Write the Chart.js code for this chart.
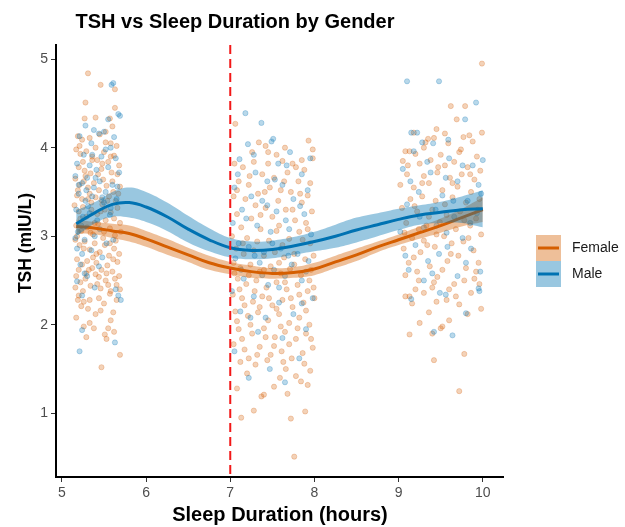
<!DOCTYPE html>
<html>
<head>
<meta charset="utf-8">
<script src="https://cdn.jsdelivr.net/npm/chart.js@4/dist/chart.umd.min.js"></script>
<style>
  html, body { margin: 0; background: #fff; }
  #wrap { width: 625px; height: 527px; }
</style>
</head>
<body>
<div id="wrap"><canvas id="chart" width="625" height="527"></canvas></div>
<script>
/* --- Data --- */
const chartTitle = 'TSH vs Sleep Duration by Gender';
const xTitle = 'Sleep Duration (hours)';
const yTitle = 'TSH (mIU/L)';
const xTicks = [5, 6, 7, 8, 9, 10];
const yTicks = [1, 2, 3, 4, 5];
const cutoffHours = 7;
const groups = ['Female', 'Male'];

// smoothed fit + confidence band, read at these hours
const fitHours   = [5.17, 5.4, 5.6, 5.8, 6.0, 6.25, 6.5, 6.75, 7.0, 7.25, 7.5, 7.75, 8.0, 8.25, 8.5, 8.75, 9.0, 9.25, 9.5, 9.75, 10.0];
const maleFit    = [3.14, 3.27, 3.36, 3.38, 3.33, 3.22, 3.08, 2.96, 2.87, 2.84, 2.85, 2.89, 2.94, 3.00, 3.07, 3.13, 3.19, 3.24, 3.27, 3.30, 3.31];
const maleUpper  = [3.29, 3.39, 3.50, 3.55, 3.50, 3.38, 3.23, 3.09, 2.98, 2.94, 2.95, 2.99, 3.05, 3.13, 3.21, 3.26, 3.31, 3.35, 3.39, 3.45, 3.52];
const maleLower  = [3.00, 3.15, 3.22, 3.21, 3.16, 3.06, 2.93, 2.83, 2.76, 2.74, 2.75, 2.79, 2.83, 2.87, 2.93, 3.00, 3.07, 3.13, 3.15, 3.15, 3.10];
const femaleFit   = [3.11, 3.09, 3.06, 3.03, 2.97, 2.88, 2.79, 2.70, 2.64, 2.60, 2.58, 2.59, 2.63, 2.71, 2.79, 2.88, 2.96, 3.04, 3.12, 3.21, 3.30];
const femaleUpper = [3.19, 3.16, 3.14, 3.12, 3.06, 2.97, 2.87, 2.78, 2.71, 2.67, 2.64, 2.65, 2.70, 2.78, 2.86, 2.94, 3.02, 3.11, 3.20, 3.31, 3.44];
const femaleLower = [3.03, 3.02, 2.98, 2.94, 2.88, 2.79, 2.71, 2.62, 2.57, 2.53, 2.52, 2.53, 2.56, 2.64, 2.72, 2.82, 2.90, 2.97, 3.04, 3.11, 3.16];

// individual observations [hours, TSH]
const femaleShort = [
  [5.31,4.84],[5.46,4.71],[5.63,4.66],[5.28,4.51],[5.63,4.45],[5.27,4.33],[5.40,4.34],[5.57,4.33],[5.60,4.24],[5.52,4.18],[5.19,4.13],[5.24,4.09],[5.33,4.11],[5.45,4.15],[5.58,4.05],[5.65,4.02],
  [5.17,3.98],[5.22,3.93],[5.29,3.96],[5.36,3.90],[5.42,3.86],[5.50,3.95],[5.55,3.84],[5.62,3.91],[5.68,3.80],[5.20,3.78],[5.27,3.74],[5.34,3.71],[5.47,3.76],[5.59,3.72],[5.66,3.70],
  [5.16,3.65],[5.21,3.58],[5.26,3.62],[5.31,3.55],[5.38,3.60],[5.44,3.52],[5.49,3.64],[5.53,3.57],[5.61,3.50],[5.69,3.56],[5.18,3.46],[5.24,3.42],[5.33,3.48],[5.40,3.44],[5.47,3.41],[5.56,3.45],[5.64,3.40],
  [5.15,3.35],[5.20,3.28],[5.25,3.33],[5.29,3.22],[5.35,3.30],[5.42,3.25],[5.48,3.36],[5.52,3.18],[5.58,3.27],[5.66,3.32],[5.17,3.12],[5.23,3.06],[5.30,3.10],[5.37,3.02],[5.43,3.14],[5.50,3.05],[5.57,3.09],[5.63,3.01],[5.69,3.15],
  [5.16,2.96],[5.21,2.90],[5.27,2.94],[5.33,2.85],[5.39,2.92],[5.45,2.82],[5.51,2.90],[5.56,2.78],[5.62,2.86],[5.68,2.80],[5.18,2.74],[5.24,2.68],[5.30,2.72],[5.36,2.64],[5.41,2.70],[5.47,2.62],[5.54,2.67],[5.60,2.60],[5.66,2.71],
  [5.17,2.55],[5.22,2.48],[5.28,2.52],[5.34,2.44],[5.40,2.57],[5.46,2.41],[5.52,2.50],[5.58,2.38],[5.65,2.45],[5.20,2.33],[5.26,2.26],[5.33,2.28],[5.44,2.30],[5.50,2.24],[5.57,2.35],[5.65,2.28],
  [5.23,2.21],[5.17,2.08],[5.33,2.02],[5.29,1.86],[5.51,1.89],[5.53,1.84],[5.55,1.96],[5.47,1.52],[5.69,1.66],[5.40,2.12],[5.58,2.05],[5.62,1.92],[5.26,1.98],
  [5.19,3.52],[5.28,3.68],[5.35,3.38],[5.43,3.70],[5.51,3.30],[5.60,3.62],[5.67,3.48],[5.22,3.20],[5.31,3.42],[5.39,3.15],[5.46,3.28],[5.54,3.40],[5.62,3.20],[5.18,3.00],[5.26,2.86],[5.34,3.04],
  [5.41,2.80],[5.49,2.98],[5.57,2.92],[5.64,2.95],[5.70,3.05],[5.20,2.62],[5.29,2.58],[5.37,2.76],[5.44,2.54],[5.53,2.58],[5.61,2.74],[5.68,2.55],[5.16,2.42],[5.25,2.38],[5.32,2.62],[5.42,2.46],
  [5.55,2.45],[5.63,2.52],[5.69,2.40],[5.36,3.86],[5.25,3.84],[5.48,3.82],[5.58,3.90],[5.21,4.02],[5.40,4.00],[5.52,4.06],[5.31,2.18],[5.46,2.16],[5.61,2.14],[5.38,1.96],[5.19,2.28]
];
const femaleMid = [
  [7.06,4.27],[7.34,4.06],[7.42,4.02],[7.45,3.95],[7.98,3.98],[7.98,3.88],[7.74,3.82],[7.78,3.78],[7.55,3.92],[7.62,3.85],[7.05,3.82],[7.15,3.78],[7.28,3.84],[7.88,3.75],[7.68,3.72],[7.38,3.70],
  [7.52,3.66],[7.81,3.62],[7.95,3.60],[7.10,3.62],[7.22,3.58],[7.47,3.55],[7.60,3.52],[7.72,3.50],[7.92,3.46],[7.04,3.45],[7.18,3.42],[7.33,3.48],[7.57,3.40],[7.85,3.38],[7.30,3.35],[7.42,3.32],
  [7.66,3.30],[7.97,3.28],[7.08,3.25],[7.25,3.20],[7.50,3.22],[7.77,3.18],[7.90,3.15],[7.13,3.10],[7.36,3.08],[7.58,3.12],[7.82,3.05],[7.02,3.00],[7.20,2.98],[7.46,2.95],[7.70,2.97],[7.95,2.92],
  [7.07,2.86],[7.16,2.80],[7.28,2.84],[7.40,2.78],[7.53,2.82],[7.64,2.76],[7.76,2.80],[7.89,2.74],[7.99,2.78],[7.04,2.70],[7.12,2.64],[7.24,2.68],[7.35,2.60],[7.48,2.66],[7.60,2.58],[7.71,2.63],
  [7.84,2.56],[7.96,2.62],[7.09,2.52],[7.19,2.46],[7.31,2.50],[7.43,2.42],[7.55,2.48],[7.67,2.40],[7.80,2.45],[7.92,2.38],[7.03,2.34],[7.14,2.30],[7.27,2.26],[7.38,2.32],[7.50,2.22],[7.62,2.28],
  [7.74,2.20],[7.87,2.25],[8.00,2.30],[7.06,2.15],[7.21,2.10],[7.33,2.14],[7.45,2.05],[7.58,2.12],[7.70,2.02],[7.82,2.08],[7.94,2.00],[7.10,1.95],[7.26,1.90],[7.40,1.96],[7.53,1.86],[7.65,1.92],
  [7.78,1.84],[7.90,1.90],[7.04,1.78],[7.17,1.72],[7.35,1.75],[7.48,1.66],[7.61,1.70],[7.73,1.62],[7.86,1.68],[7.98,1.74],[7.12,1.58],[7.30,1.55],[7.44,1.60],
  [7.13,0.95],[7.28,1.03],[7.72,0.94],[7.89,1.02],[7.76,0.51],[7.37,1.19],[7.40,1.21],[7.68,1.22],[7.59,1.40],[7.84,1.36],[7.92,1.32],[7.78,1.42],[7.20,1.45],[7.52,1.30],[7.08,1.28],[7.66,1.50],[7.95,1.48],
  [7.08,3.52],[7.23,3.68],[7.41,3.50],[7.64,3.62],[7.83,3.48],[7.36,3.24],[7.55,3.06],[7.74,3.30],[7.92,3.08],[7.15,2.92],[7.32,2.94],[7.62,2.90],[7.86,2.96],[7.05,2.58],[7.22,2.56],[7.40,2.62],
  [7.58,2.70],[7.76,2.68],[7.94,2.50],[7.11,2.40],[7.29,2.38],[7.46,2.30],[7.65,2.48],[7.82,2.34],[7.99,2.42],[7.17,2.22],[7.35,2.20],[7.55,2.18],[7.72,2.30],[7.90,2.16],[7.08,2.04],[7.24,2.00],
  [7.42,1.86],[7.60,1.98],[7.80,1.96],[7.96,1.84],[7.14,1.84],[7.32,1.66],[7.52,1.76],[7.70,1.78],[7.88,1.56],[7.22,1.62],[7.63,1.58],[7.45,3.82],[7.85,3.86],[7.26,3.95],[7.65,4.00],[7.93,4.08]
];
const femaleLong = [
  [9.99,4.95],[9.62,4.47],[9.79,4.47],[9.69,4.32],[9.45,4.21],[9.18,4.17],[9.99,4.17],[9.77,4.12],[9.84,4.14],[9.35,4.10],[9.42,4.11],[9.32,4.06],[9.59,4.05],[9.88,4.07],[9.08,3.96],[9.13,3.96],[9.20,3.93],[9.72,3.95],[9.93,3.90],[9.50,3.92],
  [9.05,3.85],[9.25,3.82],[9.38,3.86],[9.55,3.80],[9.66,3.84],[9.82,3.78],[9.97,3.74],[9.10,3.70],[9.30,3.68],[9.46,3.72],[9.61,3.66],[9.75,3.70],[9.90,3.64],[9.02,3.58],[9.18,3.55],[9.36,3.60],
  [9.52,3.52],[9.70,3.56],[9.86,3.50],[9.14,3.42],[9.28,3.45],[9.44,3.40],[9.64,3.44],[9.80,3.38],[9.96,3.42],
  [9.04,3.32],[9.22,3.28],[9.40,3.30],[9.57,3.24],[9.73,3.28],[9.92,3.20],[9.09,3.15],[9.33,3.12],[9.49,3.16],[9.68,3.08],[9.85,3.12],[9.16,2.98],[9.30,2.95],[9.54,3.00],[9.77,2.94],[9.98,3.02],
  [9.06,2.86],[9.26,2.82],[9.43,2.88],[9.62,2.80],[9.89,2.84],[9.12,2.70],[9.37,2.66],[9.58,2.72],[9.80,2.64],[9.95,2.70],
  [9.08,2.56],[9.24,2.50],[9.46,2.54],[9.66,2.46],[9.90,2.52],[9.08,2.32],[9.13,2.32],[9.68,2.32],[9.20,2.40],[9.30,2.36],[9.40,2.42],[9.16,2.24],[9.72,2.23],[9.45,2.26],[9.57,2.28],[9.86,2.36],
  [9.36,2.14],[9.82,2.12],[9.98,2.18],[9.13,1.89],[9.40,1.90],[9.50,1.96],[9.52,1.98],[9.42,1.60],[9.78,1.67],[9.72,1.25],[9.60,2.05],[9.25,2.02],
  [9.11,3.80],[9.28,3.60],[9.47,3.78],[9.64,3.60],[9.85,3.70],[9.19,3.34],[9.36,3.22],[9.55,3.36],[9.78,3.18],[9.94,3.30],[9.07,3.04],[9.24,3.08],[9.45,3.02],[9.63,2.92],[9.83,2.98],[9.18,2.76],
  [9.34,2.90],[9.52,2.62],[9.71,2.78],[9.92,2.60],[9.22,2.60],[9.42,2.48],[9.60,2.40],[9.78,2.50],[9.96,2.46],[9.30,4.00],[9.55,4.16],[9.74,3.98]
];
const maleShort = [
  [5.61,4.73],[5.59,4.71],[5.67,4.38],[5.69,4.36],[5.55,4.32],[5.50,4.18],[5.44,4.16],[5.62,4.12],[5.21,4.13],[5.35,4.05],[5.58,4.00],[5.26,3.92],[5.47,3.90],[5.64,3.88],[5.18,3.82],[5.33,3.80],
  [5.41,3.75],[5.55,3.78],[5.68,3.72],[5.16,3.68],[5.24,3.60],[5.30,3.66],[5.38,3.55],[5.45,3.62],[5.52,3.50],[5.60,3.58],[5.20,3.48],[5.28,3.40],[5.36,3.45],[5.50,3.38],[5.65,3.42],[5.17,3.30],
  [5.25,3.22],[5.33,3.26],[5.42,3.18],[5.57,3.24],[5.19,3.05],[5.27,2.96],[5.39,3.00],[5.53,2.92],[5.18,2.86],[5.24,2.80],[5.35,2.84],[5.48,2.76],[5.22,2.68],[5.18,2.49],[5.39,2.42],[5.64,2.40],
  [5.70,2.28],[5.67,2.33],[5.24,2.33],[5.24,1.94],[5.63,1.80],[5.21,1.70],[5.30,2.55],
  [5.20,3.58],[5.29,3.52],[5.40,3.66],[5.48,3.44],[5.58,3.32],[5.66,3.56],[5.23,3.12],[5.31,3.34],[5.45,3.08],[5.36,3.92],[5.52,3.98],[5.27,2.58],[5.44,2.66],[5.16,2.98],[5.61,2.96],[5.38,4.20],[5.28,4.25]
];
const maleMid = [
  [7.18,4.39],[7.37,4.28],[7.21,4.04],[7.49,4.07],[7.51,4.10],[7.11,3.87],[7.57,3.82],[7.67,3.80],[7.30,3.72],[7.85,3.70],[7.44,3.62],[7.05,3.55],[7.62,3.58],[7.92,3.52],[7.25,3.45],[7.38,3.40],
  [7.75,3.42],[7.14,3.30],[7.55,3.28],[7.88,3.25],[7.03,3.15],[7.32,3.12],[7.48,3.05],[7.70,3.08],[7.96,3.02],[7.10,2.92],[7.22,2.88],[7.40,2.82],[7.60,2.86],[7.80,2.80],[7.06,2.75],[7.35,2.70],
  [7.52,2.62],[7.73,2.68],[7.93,2.72],[7.16,2.52],[7.45,2.45],[7.65,2.55],[7.85,2.50],[7.02,2.38],[7.28,2.32],[7.58,2.25],[7.98,2.30],[7.12,2.15],[7.42,2.08],[7.75,2.12],[7.33,1.92],[7.62,1.85],
  [7.90,1.95],[7.05,1.70],[7.22,1.40],[7.47,1.50],[7.65,1.35],[7.82,1.62],
  [7.09,3.70],[7.28,3.92],[7.53,3.64],[7.71,3.95],[7.95,3.88],[7.19,3.20],[7.44,3.35],[7.66,3.18],[7.83,3.34],[7.13,2.62],[7.29,2.78],[7.50,2.92],[7.69,2.78],[7.90,2.60],[7.38,2.56],[7.58,2.42],
  [7.24,2.08],[7.85,2.24]
];
const maleLong = [
  [9.10,4.75],[9.48,4.75],[9.92,4.51],[9.79,4.32],[9.15,4.17],[9.22,4.17],[9.59,4.09],[9.28,4.06],[9.41,4.05],[10.0,3.86],[9.18,3.96],[9.60,3.88],[9.88,3.80],[9.05,3.76],[9.38,3.72],[9.70,3.62],
  [9.95,3.58],[9.24,3.50],[9.52,3.46],[9.82,3.40],[9.10,3.36],[9.44,3.30],[9.66,3.22],[9.93,3.26],[9.30,3.10],[9.57,3.04],[9.76,2.98],[9.02,3.05],[9.20,2.90],[9.48,2.80],[9.86,2.86],[9.12,2.62],
  [9.40,2.58],[9.70,2.55],[9.97,2.60],[9.15,2.29],[9.56,2.34],[9.49,2.36],[9.96,2.38],[9.95,2.41],[9.80,2.13],[9.42,1.92],[9.30,2.50],[9.64,1.88],
  [9.14,3.62],[9.34,3.84],[9.56,3.66],[9.76,3.80],[9.98,3.48],[9.25,3.22],[9.45,3.12],[9.65,3.40],[9.85,3.15],[9.35,2.72],[9.58,2.88],[9.80,2.70],[9.08,2.78]
];

/* --- Helpers --- */
const FONT = '"Liberation Sans", Arial, Helvetica, sans-serif';
const MALE = '0,114,178';
const FEMALE = '213,94,0';

const toPts = (arr) => arr.map(([x, y]) => ({ x, y }));
const curve = (ys) => fitHours.map((x, i) => ({ x, y: ys[i] }));

function fitLine(label, ys, rgb) {
  return { type: 'line', label, data: curve(ys), borderColor: `rgb(${rgb})`, borderWidth: 3,
           pointRadius: 0, pointHoverRadius: 0, tension: 0.4, fill: false };
}
function bandEdge(label, ys, rgb, fillPrev) {
  return { type: 'line', label, data: curve(ys), borderColor: 'transparent', borderWidth: 1,
           pointRadius: 0, pointHoverRadius: 0, tension: 0.4,
           fill: fillPrev ? '-1' : false, backgroundColor: `rgba(${rgb},0.4)` };
}
function scatterSet(label, arr, rgb) {
  return { type: 'scatter', label, data: toPts(arr), pointRadius: 2.6, pointHoverRadius: 2.6,
           backgroundColor: `rgba(${rgb},0.28)`, borderColor: `rgba(${rgb},0.3)`, borderWidth: 0.8 };
}

// titles, cut-off line and legend drawn by hand (ggplot look)
const decor = {
  id: 'decor',
  afterDatasetsDraw(chart) {
    const { ctx, chartArea, scales } = chart;
    const px = scales.x.getPixelForValue(cutoffHours);
    ctx.save();
    ctx.strokeStyle = '#f21818';
    ctx.lineWidth = 2;
    ctx.setLineDash([9, 5]);
    ctx.beginPath();
    ctx.moveTo(px, chartArea.top);
    ctx.lineTo(px, chartArea.bottom);
    ctx.stroke();
    ctx.restore();
  },
  afterDraw(chart) {
    const { ctx } = chart;
    ctx.save();
    ctx.fillStyle = '#000';
    ctx.textAlign = 'center';
    ctx.textBaseline = 'alphabetic';
    ctx.font = `bold 20px ${FONT}`;
    ctx.fillText(chartTitle, 235, 28);
    ctx.fillText(xTitle, 280, 521);
    ctx.translate(31, 243);
    ctx.rotate(-Math.PI / 2);
    ctx.font = `bold 17.5px ${FONT}`;
    ctx.fillText(yTitle, 0, 0);
    ctx.restore();

    // legend
    const keys = [
      { label: groups[0], rgb: FEMALE },
      { label: groups[1], rgb: MALE }
    ];
    ctx.save();
    keys.forEach((k, i) => {
      const top = 235 + i * 26;
      ctx.fillStyle = `rgba(${k.rgb},0.4)`;
      ctx.fillRect(536, top, 25, 26);
      ctx.strokeStyle = `rgb(${k.rgb})`;
      ctx.lineWidth = 3;
      ctx.beginPath();
      ctx.moveTo(538, top + 13);
      ctx.lineTo(559, top + 13);
      ctx.stroke();
      ctx.fillStyle = '#1a1a1a';
      ctx.font = `14px ${FONT}`;
      ctx.textAlign = 'left';
      ctx.textBaseline = 'middle';
      ctx.fillText(k.label, 572, top + 13);
    });
    ctx.restore();
  }
};

function axisStyle(tickVals, fitFn) {
  return {
    type: 'linear',
    afterBuildTicks: (s) => { s.ticks = tickVals.map((v) => ({ value: v })); },
    afterFit: fitFn,
    border: { display: true, color: '#000', width: 2 },
    grid: { display: true, drawOnChartArea: false, drawTicks: true, tickLength: 5, color: '#333', lineWidth: 1 },
    ticks: { color: '#4d4d4d', font: { size: 14, family: FONT }, padding: 3, autoSkip: false, maxRotation: 0 }
  };
}

/* --- Chart --- */
new Chart(document.getElementById('chart').getContext('2d'), {
  type: 'scatter',
  data: {
    datasets: [
      fitLine('Male', maleFit, MALE),
      bandEdge('Male upper', maleUpper, MALE, false),
      bandEdge('Male lower', maleLower, MALE, true),
      fitLine('Female', femaleFit, FEMALE),
      bandEdge('Female upper', femaleUpper, FEMALE, false),
      bandEdge('Female lower', femaleLower, FEMALE, true),
      scatterSet('Male obs', [...maleShort, ...maleMid, ...maleLong], MALE),
      scatterSet('Female obs', [...femaleShort, ...femaleMid, ...femaleLong], FEMALE)
    ]
  },
  options: {
    animation: false,
    responsive: false,
    layout: { padding: { left: 0, right: 122, top: 45, bottom: 0 } },
    plugins: { legend: { display: false }, tooltip: { enabled: false }, title: { display: false } },
    scales: {
      x: { ...axisStyle(xTicks, (s) => { s.height = 50; }), min: 4.93, max: 10.24 },
      y: { ...axisStyle(yTicks, (s) => { s.width = 56; }), min: 0.28, max: 5.16 }
    }
  },
  plugins: [decor]
});
</script>
</body>
</html>
